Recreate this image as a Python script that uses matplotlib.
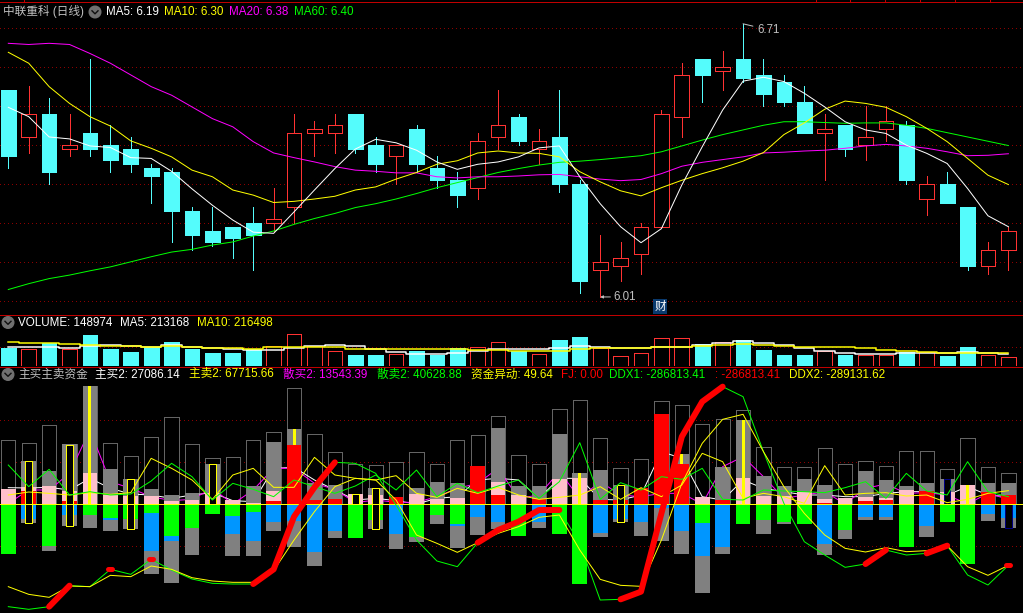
"""
中联重科 日线 K线 + 成交量 + 主买主卖资金
"""

import matplotlib
matplotlib.use('Agg')
import matplotlib.pyplot as plt
from matplotlib.patches import Circle

plt.rcParams['font.family'] = ['Liberation Sans', 'Noto Sans CJK SC', 'DejaVu Sans']
plt.rcParams['axes.unicode_minus'] = False

W, H = 1023, 613

# K线
opens = [6.54, 6.42, 6.48, 6.39, 6.43, 6.40, 6.39, 6.34, 6.33, 6.23, 6.18, 6.19, 6.20, 6.20, 6.24, 6.43, 6.43,
         6.48, 6.40, 6.37, 6.44, 6.34, 6.31, 6.29, 6.42, 6.47, 6.39, 6.42, 6.30, 6.08, 6.09, 6.12, 6.19, 6.47,
         6.62, 6.59, 6.62, 6.58, 6.56, 6.51, 6.43, 6.45, 6.40, 6.44, 6.45, 6.26, 6.30, 6.24, 6.09, 6.13]
closes = [6.37, 6.48, 6.33, 6.40, 6.39, 6.36, 6.35, 6.32, 6.23, 6.17, 6.15, 6.16, 6.17, 6.21, 6.43, 6.44, 6.45,
          6.39, 6.35, 6.40, 6.35, 6.31, 6.27, 6.41, 6.45, 6.41, 6.41, 6.30, 6.05, 6.10, 6.11, 6.19, 6.48, 6.58,
          6.58, 6.60, 6.57, 6.53, 6.51, 6.43, 6.44, 6.39, 6.42, 6.46, 6.31, 6.30, 6.25, 6.09, 6.13, 6.18]
highs = [6.54, 6.55, 6.52, 6.48, 6.62, 6.45, 6.42, 6.35, 6.34, 6.24, 6.24, 6.19, 6.24, 6.29, 6.48, 6.46, 6.48,
         6.48, 6.42, 6.40, 6.45, 6.37, 6.33, 6.43, 6.54, 6.48, 6.44, 6.54, 6.31, 6.17, 6.15, 6.20, 6.49, 6.61,
         6.62, 6.64, 6.71, 6.62, 6.58, 6.55, 6.48, 6.45, 6.50, 6.50, 6.46, 6.32, 6.33, 6.24, 6.15, 6.19]
lows = [6.34, 6.38, 6.30, 6.37, 6.37, 6.33, 6.33, 6.25, 6.15, 6.13, 6.14, 6.11, 6.08, 6.18, 6.20, 6.37, 6.38,
        6.38, 6.33, 6.30, 6.33, 6.29, 6.24, 6.26, 6.39, 6.40, 6.35, 6.28, 6.02, 6.01, 6.05, 6.07, 6.19, 6.42,
        6.51, 6.54, 6.56, 6.50, 6.50, 6.43, 6.31, 6.37, 6.36, 6.41, 6.30, 6.22, 6.25, 6.08, 6.07, 6.08]

ma5 = [6.496, 6.472, 6.420, 6.415, 6.397, 6.393, 6.367, 6.365, 6.332, 6.287, 6.245, 6.207, 6.176, 6.173, 6.228,
       6.284, 6.339, 6.389, 6.414, 6.405, 6.386, 6.356, 6.337, 6.350, 6.356, 6.369, 6.392, 6.397, 6.318, 6.249,
       6.190, 6.149, 6.185, 6.297, 6.395, 6.489, 6.563, 6.573, 6.562, 6.532, 6.497, 6.459, 6.438, 6.429, 6.399,
       6.378, 6.352, 6.288, 6.218, 6.190]
ma10 = [6.637, 6.609, 6.549, 6.506, 6.472, 6.448, 6.410, 6.391, 6.369, 6.335, 6.318, 6.284, 6.271, 6.252, 6.255,
        6.261, 6.268, 6.284, 6.292, 6.312, 6.329, 6.350, 6.359, 6.379, 6.384, 6.379, 6.378, 6.369, 6.331, 6.305,
        6.282, 6.269, 6.290, 6.309, 6.326, 6.341, 6.358, 6.380, 6.426, 6.456, 6.491, 6.512, 6.506, 6.496, 6.472,
        6.442, 6.408, 6.365, 6.322, 6.298]
ma20 = [6.660, 6.657, 6.660, 6.657, 6.634, 6.609, 6.579, 6.549, 6.527, 6.497, 6.467, 6.446, 6.408, 6.379, 6.367,
        6.356, 6.344, 6.335, 6.332, 6.328, 6.328, 6.318, 6.315, 6.318, 6.318, 6.320, 6.323, 6.324, 6.318, 6.312,
        6.308, 6.311, 6.326, 6.345, 6.355, 6.362, 6.369, 6.379, 6.381, 6.384, 6.386, 6.391, 6.397, 6.401, 6.397,
        6.391, 6.382, 6.372, 6.373, 6.377]
ma60 = [6.029, 6.044, 6.057, 6.066, 6.077, 6.087, 6.100, 6.113, 6.125, 6.132, 6.143, 6.151, 6.166, 6.179, 6.196,
        6.211, 6.224, 6.239, 6.249, 6.261, 6.275, 6.290, 6.303, 6.316, 6.329, 6.339, 6.348, 6.355, 6.358, 6.362,
        6.367, 6.372, 6.382, 6.397, 6.412, 6.426, 6.438, 6.450, 6.459, 6.459, 6.457, 6.455, 6.456, 6.456, 6.450,
        6.442, 6.431, 6.420, 6.409, 6.398]
price_grid = [6.70, 6.60, 6.50, 6.40, 6.30, 6.20, 6.10, 6.00]

# 成交量(千手)
volume = [315, 287, 390, 287, 533, 292, 241, 321, 413, 287, 223, 223, 287, 338, 544, 338, 252, 189, 189, 201, 258,
          189, 309, 321, 407, 252, 201, 447, 498, 309, 166, 218, 476, 476, 378, 407, 447, 275, 189, 189, 258, 189,
          195, 195, 246, 246, 172, 327, 183, 149]
vol_ma5 = [321, 321, 321, 309, 344, 361, 344, 332, 355, 321, 309, 287, 269, 269, 304, 338, 355, 344, 298, 246,
           212, 201, 218, 252, 292, 287, 287, 315, 350, 332, 304, 304, 332, 332, 367, 401, 435, 401, 355, 304,
           264, 229, 201, 201, 229, 229, 218, 235, 229, 213]
vol_ma10 = [407, 390, 390, 372, 355, 344, 338, 332, 338, 332, 315, 315, 298, 321, 327, 327, 321, 298, 287, 287,
            287, 287, 287, 269, 275, 252, 258, 264, 292, 304, 304, 304, 327, 332, 344, 361, 372, 361, 338, 327,
            321, 321, 304, 269, 252, 235, 218, 223, 218, 216]
vol_grid = 332

# 主买主卖资金,副图刻度单位(约 967 元一格)
box_up = [192, 183, 237, 180, 355, 183, 144, 201, 261, 180, 138, 141, 192, 216, 348, 210, 156, 120, 117, 126, 156,
          120, 192, 207, 264, 147, 120, 285, 312, 198, 108, 135, 309, 298, 240, 255, 282, 171, 111, 111, 168, 120,
          129, 114, 159, 159, 105, 198, 111, 93]
grey_up = [46, 130, 100, 180, 355, 106, 76, 46, 28, 34, 120, 13, 55, 187, 226, 64, 58, 31, 49, 22, 49, 67, 64, 115,
           229, 55, 55, 211, 94, 103, 58, 49, 271, 151, 22, 111, 252, 85, 55, 76, 58, 19, 100, 73, 55, 64, 76, 58,
           64, 64]
pink_up = [46, 53, 55, 40, 94, 28, 25, 25, 10, 13, 34, 13, 4, 40, 0, 0, 0, 31, 28, 0, 31, 16, 19, 0, 67, 28, 0, 76,
           79, 0, 0, 0, 0, 0, 22, 0, 79, 25, 25, 37, 16, 19, 22, 19, 43, 0, 37, 58, 0, 0]
red_up = [0, 40, 0, 10, 0, 0, 0, 0, 0, 0, 0, 0, 0, 10, 178, 13, 16, 0, 0, 22, 0, 0, 0, 115, 28, 0, 16, 0, 0, 13, 13,
          49, 271, 121, 0, 13, 0, 0, 0, 0, 4, 0, 10, 13, 0, 40, 0, 0, 37, 28]
green_down = [148, 0, 125, 3, 32, 41, 44, 26, 95, 71, 29, 35, 23, 0, 0, 0, 0, 101, 47, 0, 98, 32, 59, 0, 0, 95, 0,
              89, 239, 0, 0, 0, 0, 0, 56, 0, 59, 47, 53, 59, 0, 77, 0, 0, 128, 0, 53, 179, 0, 0]
blue_down = [0, 45, 0, 33, 0, 47, 0, 140, 111, 0, 0, 89, 111, 53, 50, 143, 80, 0, 0, 89, 0, 0, 65, 38, 53, 0, 53, 0,
             0, 86, 44, 53, 11, 80, 155, 128, 0, 0, 0, 0, 119, 0, 38, 38, 0, 65, 0, 0, 29, 42]
grey_down = [0, 55, 140, 65, 71, 80, 74, 208, 235, 152, 0, 155, 155, 80, 128, 185, 101, 0, 74, 134, 113, 59, 131, 92,
             74, 95, 71, 0, 0, 98, 53, 95, 110, 149, 266, 149, 0, 89, 59, 0, 152, 104, 47, 47, 0, 98, 0, 0, 50, 70]

# 空心框和细柱:槽位、上沿、下沿
yellow_box_slot = [1, 3, 6, 10, 17, 18, 30]
yellow_box_top = [130, 178, 76, 120, 31, 49, 57]
yellow_box_bottom = [-55, -64, -73, 0, 0, -73, -52]
navy_box_slot = [46, 49]
navy_box_top = [76, 0]
navy_box_bottom = [0, -70]
yellow_bar_slot = [4, 14, 28, 33, 36, 47]
yellow_bar_top = [355, 226, 94, 151, 252, 58]
yellow_bar_bottom = [0, 178, 0, 121, 0, 0]

line_white = [50, 49, 51, 43, 78, 48, 31, 28, 18, 28, 35, 11, 8, 108, 111, 73, 43, 13, 18, 11, 1, 18, 23, 73, 78,
              73, 18, 78, 78, 15, 13, 28, 158, 138, 23, 13, 73, 48, 38, 28, 28, 23, 23, 33, 38, 38, 28, 53, 28, 23]
line_magenta = [3, 43, 43, 93, 223, 68, 48, 23, 11, 15, 48, 1, 43, 108, 108, 63, 45, 5, 13, 6, 6, 23, 48, 63, 108,
                18, 28, 98, 18, 68, 28, 23, 33, 33, 1, 113, 143, 83, 18, 28, 38, 1, 48, 61, 33, 35, 28, 1, 33, 15]
line_yellow = [28, 37, 33, 28, 35, 30, 35, 138, 108, 73, 15, 88, 108, 51, 51, 141, 88, 78, 73, 86, 33, 21, 48, 33,
               51, 28, 15, 21, 28, 53, 15, 50, 23, 58, 153, 128, 18, 33, 23, 3, 116, 28, 33, 35, 25, 28, 5, 15, 33, 41]
line_green = [118, 53, 105, 28, 38, 28, 31, 70, 123, 83, 13, 63, 45, 23, 73, 53, 33, 55, 88, 43, 103, 23, 63, 35,
              55, 73, 18, 68, 185, 15, 65, 43, 83, 75, 108, 15, 13, 43, 40, 38, 35, 50, 68, 18, 93, 40, 28, 128, 38, 23]

ddx1 = [-307, -315, -307, -244, -247, -195, -210, -165, -197, -224, -237, -239, -239, -195, -37, 51, 126,
        123, 93, -2, -107, -170, -187, -115, -77, -52, -17, -17, -117, -287, -285, -262, -27, 203,
        308, 353, 323, 158, 3, -112, -152, -189, -179, -137, -152, -147, -124, -212, -242, -183]
ddx2 = [-247, -270, -279, -245, -247, -213, -217, -185, -195, -220, -230, -234, -234, -199, -107, -22, 53,
        78, 73, 13, -92, -117, -144, -115, -87, -67, -39, -32, -137, -225, -243, -246, -107, 63,
        183, 255, 270, 158, 53, -27, -92, -132, -143, -130, -142, -139, -124, -187, -213, -183]
# DDX 上升段加粗
ddx_thick_runs = [(2, 3), (12, 16), (23, 27), (30, 35), (42, 43), (45, 46)]
ddx_dots = [5, 7, 49]
fund_grid = [252, 126, -126]

CYAN = '#54FCFC'
RED = '#FF3232'
GRID = '#8C0000'
LINE_RED = '#C00000'
TEXT_GREY = '#C0C0C0'

slots = list(range(len(closes)))
x_left = -8.3 / 20.41
x_right = (W - 8.3) / 20.41
px = 72 / 100


def make_axes(fig, top, bottom, ylim):
    ax = fig.add_axes([0, 1 - bottom / H, 1, (bottom - top) / H])
    ax.set_facecolor('black')
    ax.set_xlim(x_left, x_right)
    ax.set_ylim(*ylim)
    ax.axis('off')
    return ax


def dotted(ax, values):
    ax.hlines(values, x_left, x_right, colors=GRID, linewidth=px, linestyles=(0, (1, 4)),
              capstyle='butt', antialiased=False, zorder=0)


def thin(ax, ys, color, zorder=5, width=1.0, **kw):
    ax.plot(slots, ys, color=color, linewidth=width * px, zorder=zorder, **kw)


fig = plt.figure(figsize=(W / 100, H / 100), dpi=100, facecolor='black')

# 主图
ax = make_axes(fig, 0, 314.5, (5.965, 6.771))
dotted(ax, price_grid)
for i in slots:
    up = closes[i] > opens[i]
    color = RED if up else CYAN
    ax.vlines(i, lows[i], highs[i], colors=color, linewidth=px, antialiased=False, zorder=1)
    low_body, high_body = min(opens[i], closes[i]), max(opens[i], closes[i])
    ax.bar(i, high_body - low_body, bottom=low_body, width=0.72, facecolor='black' if up else CYAN,
           edgecolor=color, linewidth=px, antialiased=False, zorder=2)
thin(ax, ma60, '#00FF00', antialiased=True)
thin(ax, ma20, '#FF00FF', antialiased=True)
thin(ax, ma10, '#FFFF00', antialiased=True)
thin(ax, ma5, '#FFFFFF', antialiased=True)
ax.annotate('6.71', xy=(36, 6.71), xytext=(14, -6), textcoords='offset pixels', color=TEXT_GREY, fontsize=8.3,
            va='center', ha='left', arrowprops=dict(arrowstyle='-', color=TEXT_GREY, linewidth=px,
                                                    shrinkA=1, shrinkB=0))
ax.annotate('6.01', xy=(29, 6.01), xytext=(13, 0), textcoords='offset pixels', color=TEXT_GREY, fontsize=8.3,
            va='center', ha='left', arrowprops=dict(arrowstyle='-|>', color=TEXT_GREY, linewidth=px, mutation_scale=4,
                                                    shrinkA=0, shrinkB=0))

# 成交量
ax2 = make_axes(fig, 315, 366, (0, 877))
dotted(ax2, [vol_grid])
for i in slots:
    up = closes[i] > opens[i]
    ax2.bar(i, volume[i], width=0.72, facecolor='black' if up else CYAN, edgecolor=RED if up else CYAN,
            linewidth=px, antialiased=False, zorder=2)
ax2.step(slots, vol_ma5, where='mid', color='white', linewidth=1.5 * px, zorder=3)
ax2.step(slots, vol_ma10, where='mid', color='#FFFF00', linewidth=1.5 * px, zorder=4)

# 主买主卖资金
ax3 = make_axes(fig, 367, H, (-326, 412))
dotted(ax3, fund_grid)
ax3.bar(slots, box_up, width=0.70, facecolor='black', edgecolor='#646464', linewidth=px, antialiased=False, zorder=1)
thin(ax3, line_white, 'white', zorder=2)
thin(ax3, line_magenta, '#FF00FF', zorder=2)
ax3.bar(slots, grey_up, width=0.72, color='#808080', antialiased=False, zorder=3)
ax3.bar(slots, pink_up, width=0.72, color='#FFC0CB', antialiased=False, zorder=4)
ax3.bar(slots, red_up, width=0.72, color='#FF0000', antialiased=False, zorder=5)
ax3.bar(slots, [-v for v in grey_down], width=0.72, color='#808080', antialiased=False, zorder=3)
ax3.bar(slots, [-v for v in blue_down], width=0.72, color='#0096FF', antialiased=False, zorder=4)
ax3.bar(slots, [-v for v in green_down], width=0.72, color='#00FF00', antialiased=False, zorder=5)
for s, t, b in zip(yellow_box_slot, yellow_box_top, yellow_box_bottom):
    ax3.bar(s, t - b, bottom=b, width=0.32, facecolor='black', edgecolor='#FFFF00', linewidth=px,
            antialiased=False, zorder=6)
for s, t, b in zip(navy_box_slot, navy_box_top, navy_box_bottom):
    ax3.bar(s, t - b, bottom=b, width=0.32, facecolor='black', edgecolor='#000080', linewidth=px,
            antialiased=False, zorder=6)
for s, t, b in zip(yellow_bar_slot, yellow_bar_top, yellow_bar_bottom):
    ax3.bar(s, t - b, bottom=b, width=0.15, color='#FFFF00', antialiased=False, zorder=6)
thin(ax3, line_yellow, '#FFFF00', zorder=7)
thin(ax3, line_green, '#00FF00', zorder=7)
ax3.axhline(0, color='#FFFF00', linewidth=px, antialiased=False, zorder=8)
thin(ax3, ddx1, '#00FF00', zorder=9)
thin(ax3, ddx2, '#FFFF00', zorder=10)
for a, b in ddx_thick_runs:
    ax3.plot(slots[a:b + 1], ddx1[a:b + 1], color='#FF0000', linewidth=6 * px, solid_capstyle='round',
             solid_joinstyle='round', zorder=11)
for s in ddx_dots:
    ax3.plot([s - 0.1, s + 0.1], [ddx1[s], ddx1[s]], color='#FF0000', linewidth=5 * px, solid_capstyle='round',
             zorder=11)

# 文字和分隔线
top = fig.add_axes([0, 0, 1, 1])
top.set_xlim(0, W)
top.set_ylim(H, 0)
top.axis('off')
top.patch.set_alpha(0)
for y in [2.2, 314.5, 366.5]:
    top.hlines(y, 0, W, colors=LINE_RED, linewidth=px, antialiased=False)
top.vlines([23.5, 816, 850, 885, 920, 955, 990], 0, 2, colors=LINE_RED, linewidth=px, antialiased=False)


def icon(x, y):
    top.add_patch(Circle((x, y), 5.8, color='#707070', zorder=3))
    top.plot([x - 3, x, x + 3], [y - 1.2, y + 1.8, y - 1.2], color='#101010', linewidth=1.4 * px, zorder=4)


def label(x, y, text, color):
    top.text(x, y, text, color=color, fontsize=8.4, va='center', ha='left', zorder=5)


icon(95, 12)
icon(8, 322.5)
icon(8, 374.5)
label(3, 12, '中联重科 (日线)', TEXT_GREY)
label(106, 12, 'MA5: 6.19', 'white')
label(164, 12, 'MA10: 6.30', '#FFFF00')
label(229, 12, 'MA20: 6.38', '#FF00FF')
label(294, 12, 'MA60: 6.40', '#00FF00')
label(18, 322.5, 'VOLUME: 148974', 'white')
label(120, 322.5, 'MA5: 213168', 'white')
label(197, 322.5, 'MA10: 216498', '#FFFF00')
label(18, 374.5, '主买主卖资金', TEXT_GREY)
label(95, 374.5, '主买2: 27086.14', 'white')
label(189, 374.5, '主卖2: 67715.66', '#FFFF00')
label(283, 374.5, '散买2: 13543.39', '#FF00FF')
label(377, 374.5, '散卖2: 40628.88', '#00FF00')
label(471, 374.5, '资金异动: 49.64', '#FFFF00')
label(561, 374.5, 'FJ: 0.00', '#FF0000')
label(609, 374.5, 'DDX1: -286813.41', '#00FF00')
label(715, 374.5, ': -286813.41', '#FF0000')
label(789, 374.5, 'DDX2: -289131.62', '#FFFF00')
top.text(660, 306.5, '财', color='white', fontsize=8.4, va='center', ha='center', zorder=5,
         bbox=dict(boxstyle='square,pad=0.12', facecolor='#0A3A6E', edgecolor='none'))

plt.savefig('out.png', dpi=100, facecolor='black')
plt.close()
